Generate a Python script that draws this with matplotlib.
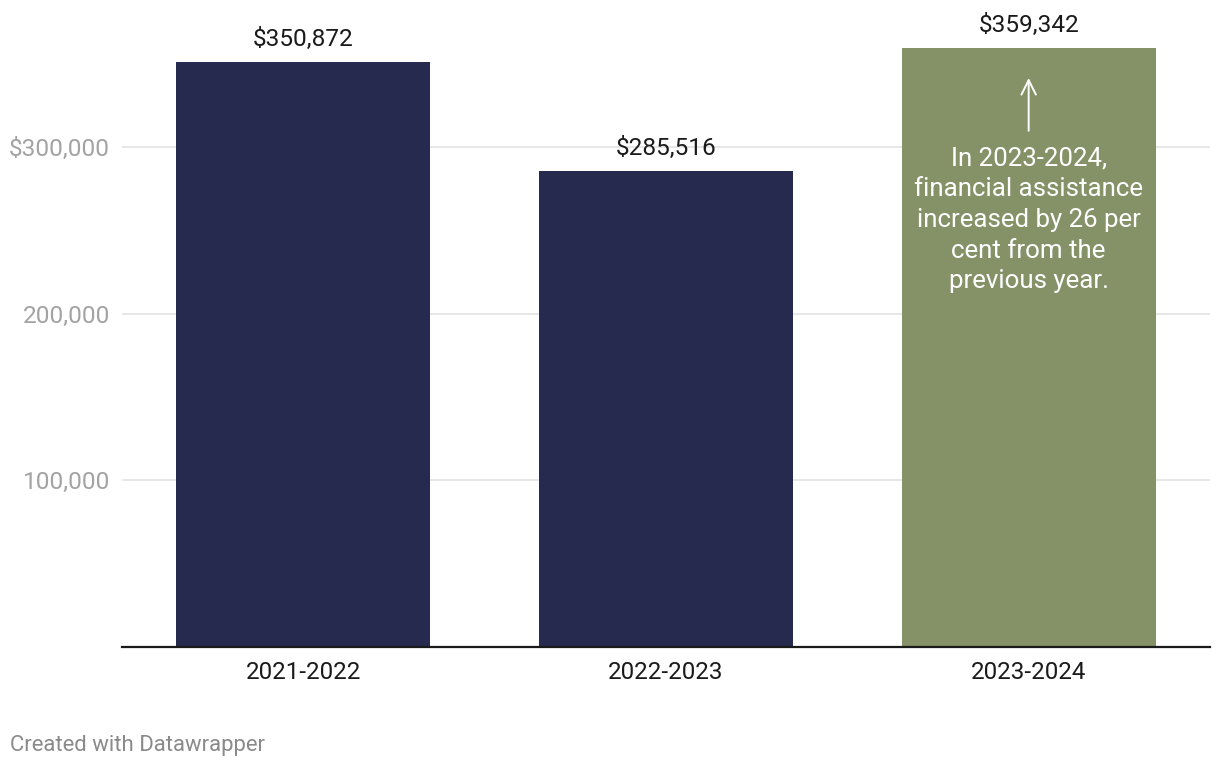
import matplotlib.pyplot as plt
from matplotlib.ticker import FixedLocator

# данные
years = ["2021-2022", "2022-2023", "2023-2024"]
amounts = [350872, 285516, 359342]
bar_colors = ["#252a4e", "#252a4e", "#859166"]
tick_vals = [100000, 200000, 300000]
tick_labels = ["100,000", "200,000", "$300,000"]
note = "In 2023-2024,\nfinancial assistance\nincreased by 26 per\ncent from the\nprevious year."

plt.rcParams['font.family'] = ['Roboto', 'DejaVu Sans']

fig = plt.figure(figsize=(12.2, 7.68), dpi=100)
ax = fig.add_axes([122 / 1220, 121 / 768, 1088 / 1220, 637 / 768])

x = list(range(len(years)))
ax.bar(x, amounts, width=0.7, color=bar_colors, zorder=2)

ax.set_xlim(-0.5, 2.5)
ax.set_ylim(0, 637 / 166.7 * 100000)

for xi, v in zip(x, amounts):
    ax.text(xi, v + 6500, f"${v:,}", ha='center', va='bottom',
            fontsize=17.6, color='#1a1a1a', zorder=3)

# сетка
ax.yaxis.set_major_locator(FixedLocator(tick_vals))
ax.set_yticklabels(tick_labels)
ax.grid(axis='y', color='#e3e3e3', linewidth=1.2, zorder=0)
ax.tick_params(axis='y', length=0, pad=8.6, labelsize=17.6, labelcolor='#a3a3a3')
ax.tick_params(axis='x', length=0, pad=10, labelsize=17.4, labelcolor='#1a1a1a')
ax.set_xticks(x)
ax.set_xticklabels(years)

for s in ['top', 'right', 'left']:
    ax.spines[s].set_visible(False)
ax.spines['bottom'].set_color('#1a1a1a')
ax.spines['bottom'].set_linewidth(1.6)
ax.spines['bottom'].set_zorder(4)

# аннотация внутри зелёного столбца
ax.annotate("", xy=(2, 343000), xytext=(2, 308000),
            arrowprops=dict(arrowstyle='->', color='white', lw=1.4,
                            mutation_scale=26), zorder=4)
ax.text(2, 300500, note, ha='center', va='top', fontsize=18.6,
        color='white', linespacing=1.36, zorder=4)

fig.text(10 / 1220, 1 - 745 / 768, "Created with Datawrapper", ha='left',
         va='center', fontsize=15.9, color='#8a8a8a')

plt.savefig("out.png", dpi=100)
